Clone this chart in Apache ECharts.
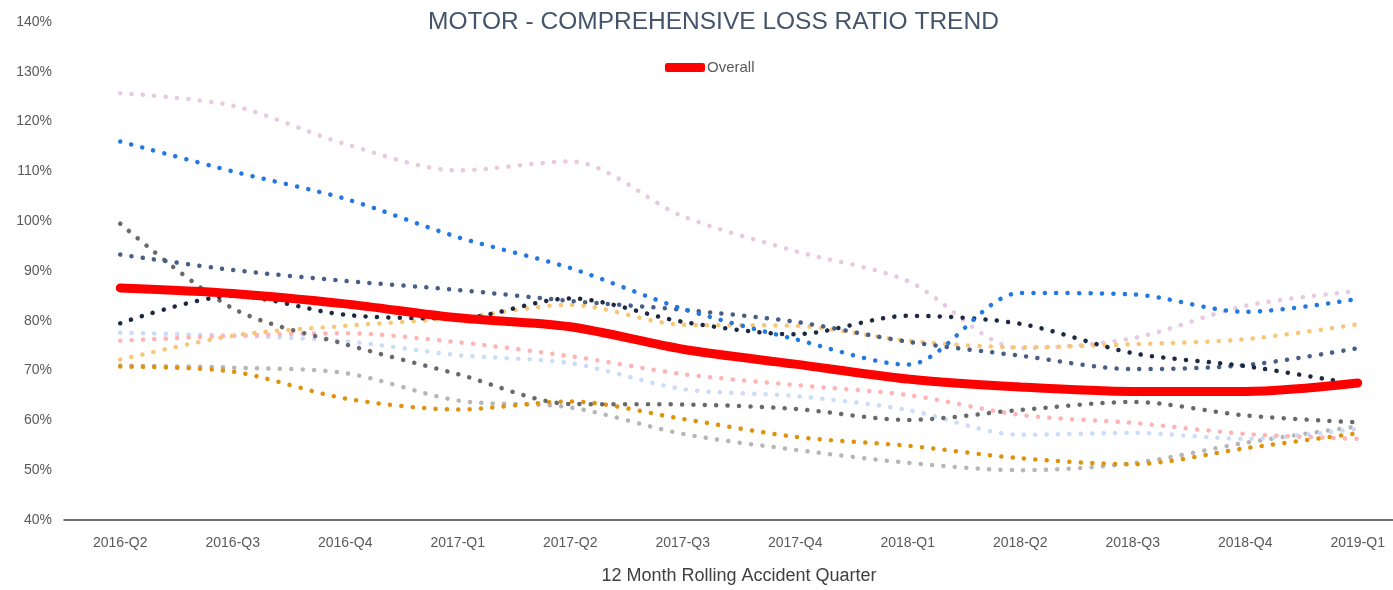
<!DOCTYPE html>
<html>
<head>
<meta charset="utf-8">
<script src="https://cdn.jsdelivr.net/npm/echarts@6/dist/echarts.min.js"></script>
<style>
  html, body { margin: 0; padding: 0; background: #fff; overflow: hidden; }
  /* plot area runs past the right edge of the window, like the original */
  .lossChart { width: 1414px; height: 590px; }
</style>
</head>
<body>
<div class="lossChart"></div>
<script>
var quarters = ['2016-Q2','2016-Q3','2016-Q4','2017-Q1','2017-Q2','2017-Q3','2017-Q4','2018-Q1','2018-Q2','2018-Q3','2018-Q4','2019-Q1'];

// loss ratio %
var lightGray = [71, 70.6, 69.5, 64, 62.6, 57.3, 54.1, 51.5, 50, 51.4, 55.5, 58.8];
var lightBlue = [77.6, 77, 75.9, 73.1, 71.5, 66.3, 64.9, 62.1, 57.1, 57.5, 56.3, 58.3];
var salmon    = [76, 77, 77.5, 75.7, 72.9, 69.3, 67.1, 65.1, 61.1, 59.5, 57.3, 56.3];
var pink      = [125.7, 123.2, 115.5, 110.2, 112, 101, 94, 88, 74.5, 76.5, 83, 86];
var yellow    = [72.2, 77, 79, 80.6, 83.2, 79.2, 79, 76, 74.7, 75.3, 76.3, 79.3];
var orange    = [70.8, 69.8, 64.4, 62.2, 63.8, 60.3, 56.7, 54.9, 52.4, 51.2, 54.4, 57.4];
var darkGray  = [99.5, 82.5, 75.3, 69.3, 63.3, 63.2, 62.3, 60.1, 62.1, 63.7, 61, 59.6];
var slate     = [93.3, 90.2, 88, 86.2, 84, 82.2, 79.8, 75.8, 73, 70.3, 71.1, 74.5];
var navy      = [79.5, 85, 81.2, 80.5, 84.5, 79.8, 77.3, 81, 79.4, 73.5, 70.9, 67.2];
var blue      = [116, 110, 104.5, 96.8, 90.6, 82.4, 76.3, 71.2, 85.6, 85.3, 81.8, 84.4];
var overall   = [86.6, 85.5, 83.4, 80.6, 78.8, 74.3, 71.3, 68.3, 66.7, 65.8, 65.8, 67.5];

var font = '"Liberation Sans", sans-serif';

function dotted(name, data, color) {
  return {
    name: name,
    type: 'line',
    data: data,
    smooth: 0.3,
    symbol: 'none',
    lineStyle: {
      color: color,
      width: 4.5,
      type: [0.1, 11.3],
      cap: 'round'
    },
    emphasis: { disabled: true }
  };
}

const option = {
  animation: false,
  title: {
    text: 'MOTOR - COMPREHENSIVE LOSS RATIO TREND',
    left: 423,
    top: 5,
    textStyle: {
      fontFamily: font,
      fontSize: 24.5,
      fontWeight: 'normal',
      color: '#44546a'
    }
  },
  legend: {
    data: ['Overall'],
    left: 660,
    top: 55,
    itemWidth: 40,
    itemHeight: 9,
    itemGap: 4,
    icon: 'roundRect',
    textStyle: { fontFamily: font, fontSize: 15, color: '#595959', padding: [0, 0, 0, -3] }
  },
  grid: { left: 64, right: 0, top: 22, bottom: 66 },
  xAxis: {
    type: 'category',
    data: quarters,
    boundaryGap: true,
    name: '12 Month Rolling Accident Quarter',
    nameLocation: 'middle',
    nameGap: 47,
    nameTextStyle: { fontFamily: font, fontSize: 18, color: '#404040' },
    axisLine: { lineStyle: { color: '#404040', width: 1.5 } },
    axisTick: { show: false },
    axisLabel: { margin: 16, fontFamily: font, fontSize: 14, color: '#595959' }
  },
  yAxis: {
    type: 'value',
    min: 40,
    max: 140,
    interval: 10,
    axisLine: { show: false },
    axisTick: { show: false },
    splitLine: { show: false },
    axisLabel: { margin: 12, fontFamily: font, fontSize: 14, color: '#595959', formatter: '{value}%' }
  },
  series: [
    dotted('Segment 1', lightGray, '#b6b6b6'),
    dotted('Segment 2', lightBlue, '#cadcf8'),
    dotted('Segment 3', salmon, '#ffb3b3'),
    dotted('Segment 4', pink, '#e7c9e2'),
    dotted('Segment 5', yellow, '#f8c677'),
    dotted('Segment 6', orange, '#df920c'),
    dotted('Segment 7', darkGray, '#696969'),
    dotted('Segment 8', slate, '#485e87'),
    dotted('Segment 9', navy, '#1d2943'),
    dotted('Segment 10', blue, '#2277e2'),
    {
      name: 'Overall',
      type: 'line',
      data: overall,
      smooth: 0.3,
      symbol: 'none',
      itemStyle: { color: '#ff0000' },
      lineStyle: { color: '#ff0000', width: 9, cap: 'round' },
      emphasis: { disabled: true }
    }
  ]
};

var myChart = echarts.init(document.querySelector('.lossChart'));
myChart.setOption(option);
</script>
</body>
</html>
